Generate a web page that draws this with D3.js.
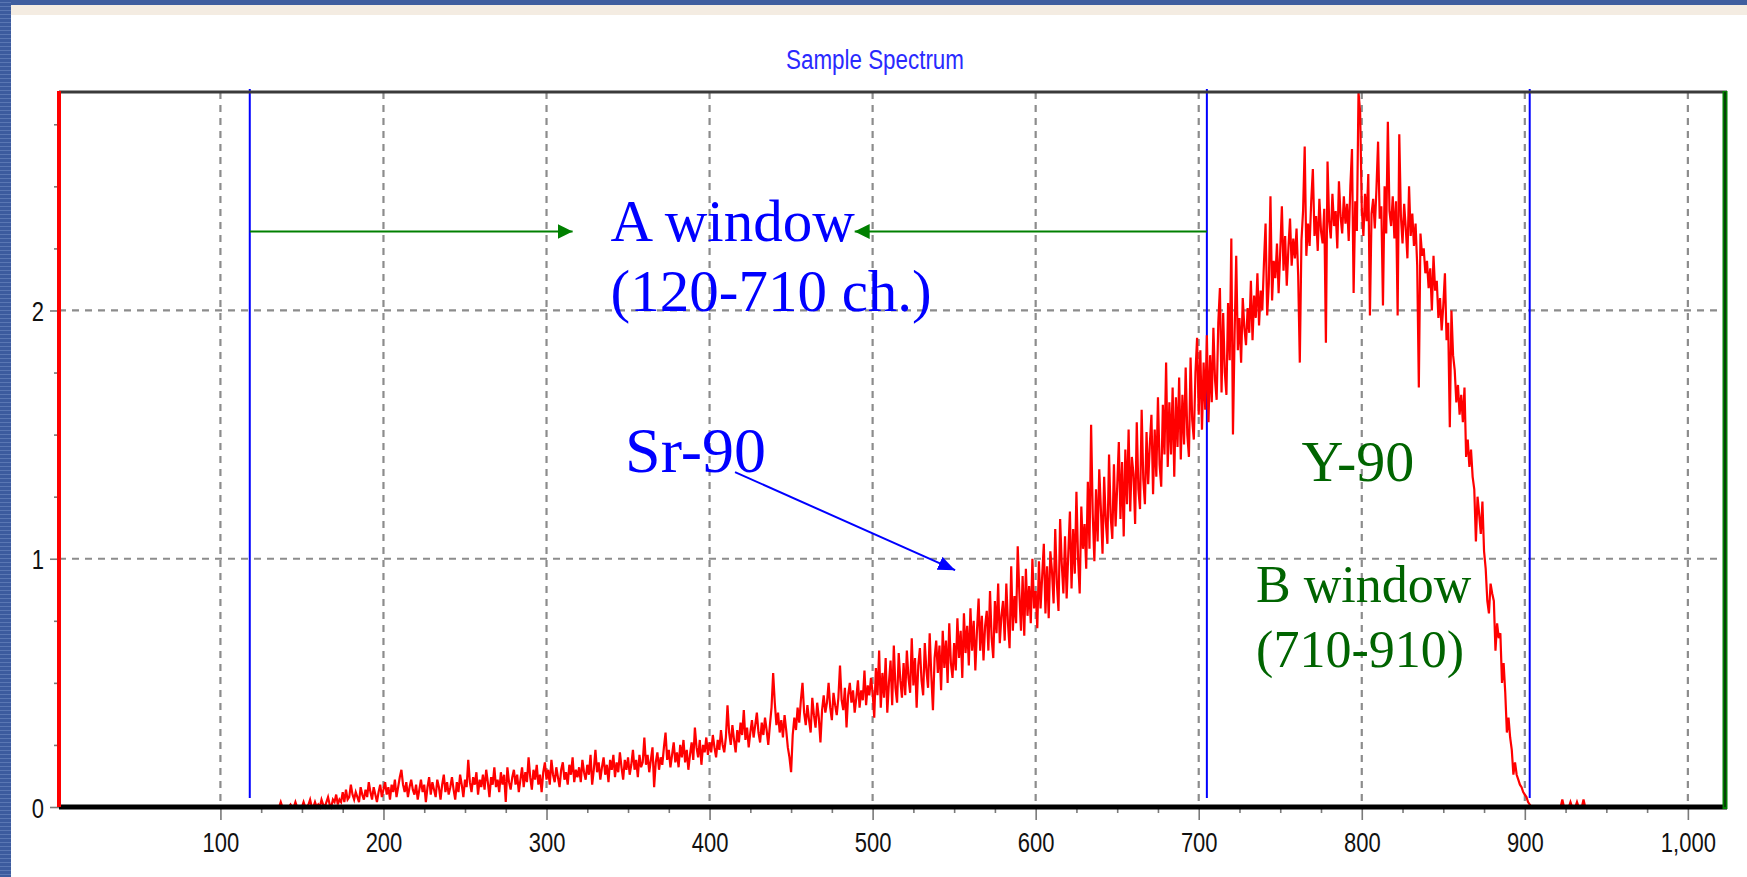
<!DOCTYPE html>
<html>
<head>
<meta charset="utf-8">
<script src="https://cdn.jsdelivr.net/npm/d3@7"></script>
<style>
body{margin:0;background:#fff;}
svg{display:block;}
</style>
</head>
<body>
<svg id="spectrum"></svg>
<script>
// counts per channel, first value is channel 130
var channelStart = 130;
var counts = [
 0,0,0,0,0,0,0,0.02,0,0,
 0,0,0,0.01,0,0,0.02,0,0,0,
 0,0.02,0,0,0.01,0.03,0,0,0.02,0,
 0.01,0,0.03,0.01,0,0.02,0.04,0.01,0,0.03,
 0.02,0.05,0.01,0.03,0.02,0.06,0.02,0.07,0.03,0.04,
 0.09,0.05,0.03,0.06,0.04,0.02,0.08,0.05,0.03,0.07,
 0.04,0.10,0.06,0.03,0.08,0.05,0.02,0.06,0.09,0.04,
 0.07,0.10,0.05,0.08,0.03,0.09,0.06,0.11,0.04,0.08,
 0.12,0.15,0.09,0.06,0.10,0.04,0.08,0.11,0.07,0.05,
 0.09,0.03,0.07,0.11,0.06,0.09,0.02,0.08,0.12,0.05,
 0.10,0.07,0.04,0.11,0.08,0.03,0.09,0.13,0.06,0.10,
 0.05,0.08,0.12,0.07,0.03,0.10,0.06,0.13,0.09,0.04,
 0.11,0.08,0.19,0.10,0.06,0.12,0.09,0.14,0.05,0.11,
 0.08,0.13,0.07,0.15,0.10,0.04,0.12,0.09,0.16,0.08,
 0.11,0.06,0.14,0.09,0.13,0.02,0.16,0.10,0.07,0.12,
 0.15,0.09,0.13,0.06,0.11,0.16,0.08,0.14,0.10,0.20,
 0.12,0.07,0.15,0.11,0.17,0.09,0.13,0.06,0.14,0.18,
 0.11,0.15,0.09,0.19,0.13,0.10,0.16,0.12,0.08,0.15,
 0.18,0.11,0.14,0.09,0.17,0.13,0.20,0.10,0.15,0.12,
 0.16,0.10,0.19,0.14,0.11,0.17,0.13,0.21,0.09,0.15,
 0.23,0.14,0.18,0.11,0.16,0.20,0.13,0.17,0.10,0.19,
 0.15,0.21,0.12,0.18,0.14,0.22,0.16,0.11,0.19,0.15,
 0.20,0.13,0.17,0.23,0.15,0.19,0.12,0.21,0.16,0.18,
 0.28,0.17,0.21,0.14,0.19,0.24,0.08,0.18,0.22,0.15,
 0.20,0.17,0.24,0.30,0.19,0.23,0.16,0.21,0.26,0.18,
 0.22,0.16,0.25,0.20,0.27,0.18,0.23,0.15,0.21,0.26,
 0.19,0.32,0.24,0.20,0.27,0.17,0.25,0.22,0.28,0.21,
 0.26,0.22,0.29,0.24,0.20,0.27,0.23,0.31,0.25,0.22,
 0.28,0.41,0.30,0.25,0.33,0.27,0.22,0.31,0.26,0.34,
 0.29,0.39,0.27,0.32,0.24,0.30,0.35,0.28,0.33,0.38,
 0.30,0.26,0.34,0.29,0.36,0.31,0.25,0.33,0.40,0.54,
 0.42,0.33,0.38,0.30,0.35,0.28,0.37,0.31,0.24,0.20,
 0.14,0.29,0.36,0.31,0.40,0.34,0.43,0.50,0.38,0.33,
 0.41,0.35,0.30,0.44,0.37,0.32,0.42,0.36,0.26,0.39,
 0.45,0.38,0.42,0.50,0.40,0.35,0.46,0.41,0.37,0.44,
 0.57,0.43,0.39,0.48,0.32,0.45,0.50,0.42,0.47,0.38,
 0.44,0.51,0.40,0.47,0.43,0.55,0.41,0.49,0.45,0.52,
 0.46,0.36,0.56,0.45,0.63,0.40,0.54,0.44,0.60,0.38,
 0.50,0.59,0.41,0.65,0.48,0.42,0.62,0.51,0.44,0.58,
 0.45,0.63,0.52,0.46,0.68,0.49,0.60,0.40,0.57,0.64,
 0.51,0.45,0.66,0.55,0.48,0.70,0.53,0.39,0.60,0.67,
 0.54,0.65,0.47,0.71,0.56,0.67,0.50,0.74,0.58,0.52,
 0.66,0.55,0.76,0.60,0.71,0.52,0.78,0.62,0.73,0.57,
 0.80,0.63,0.75,0.55,0.71,0.84,0.63,0.77,0.59,0.73,
 0.79,0.63,0.87,0.68,0.60,0.83,0.70,0.90,0.66,0.77,
 0.83,0.67,0.90,0.74,0.64,0.97,0.71,0.85,0.74,1.05,
 0.86,0.71,0.93,0.69,0.96,0.77,0.89,0.74,1.00,0.80,
 0.87,0.72,0.99,0.80,0.93,1.06,0.78,0.97,0.76,1.03,
 0.95,0.82,1.12,0.90,0.79,1.16,0.98,0.86,1.09,0.84,
 1.02,1.19,0.88,1.12,0.94,1.27,1.00,0.86,1.21,1.04,
 1.14,0.96,1.31,1.04,1.54,1.18,0.99,1.28,1.07,1.36,
 1.20,1.02,1.33,1.15,1.06,1.42,1.17,1.08,1.38,1.13,
 1.29,1.47,1.16,1.39,1.09,1.44,1.22,1.52,1.19,1.41,
 1.34,1.14,1.55,1.28,1.20,1.60,1.32,1.22,1.51,1.30,
 1.46,1.58,1.26,1.52,1.33,1.65,1.38,1.29,1.62,1.42,
 1.79,1.37,1.63,1.42,1.69,1.33,1.65,1.45,1.73,1.40,
 1.66,1.46,1.77,1.50,1.41,1.81,1.56,1.48,1.75,1.89,
 1.58,1.84,1.52,1.79,1.60,1.90,1.55,1.82,1.63,1.93,
 1.72,1.64,1.95,2.09,1.67,1.99,1.75,1.66,2.03,1.80,
 2.29,1.50,1.90,2.22,1.84,1.97,1.79,2.05,1.93,1.86,
 2.01,1.91,2.12,1.88,2.06,1.97,2.15,1.94,2.08,2.00,
 2.19,2.35,1.98,2.11,2.46,2.04,2.20,2.13,2.27,2.07,
 2.24,2.42,2.16,2.30,2.10,2.25,2.37,2.18,2.29,2.21,
 2.33,2.14,1.79,2.28,2.40,2.66,2.22,2.35,2.26,2.44,
 2.57,2.30,2.38,2.24,2.45,2.32,2.27,2.41,1.87,2.60,
 2.36,2.29,2.47,2.34,2.40,2.25,2.52,2.38,2.31,2.46,
 2.35,2.43,2.28,2.50,2.65,2.07,2.44,2.32,2.88,2.80,
 2.41,2.30,2.47,2.36,2.55,1.98,2.39,2.45,2.33,2.49,
 2.68,2.37,2.42,2.02,2.50,2.31,2.76,2.40,2.34,2.46,
 2.29,2.44,1.98,2.71,2.38,2.27,2.43,2.33,2.21,2.50,
 2.30,2.39,2.26,2.35,2.18,1.69,2.31,2.22,2.25,2.15,
 2.20,2.09,2.17,2.00,2.22,2.08,2.12,1.97,2.05,1.92,
 2.02,2.15,1.88,1.95,1.53,2.00,1.82,1.76,1.63,1.70,
 1.58,1.66,1.55,1.69,1.41,1.48,1.37,1.44,1.33,1.28,
 1.07,1.25,1.18,1.10,1.23,1.03,0.96,0.83,0.78,0.90,
 0.86,0.83,0.63,0.74,0.68,0.70,0.50,0.58,0.46,0.30,
 0.36,0.28,0.23,0.13,0.18,0.13,0.11,0.09,0.08,0.06,
 0.05,0.04,0.02,0.01,0,0,0,0,0,0,
 0,0,0,0,0,0,0,0,0,0,
 0,0,0,0.03,0,0,0,0,0.02,0,
 0,0,0.02,0,0,0,0.03,0,0,0,
 0
];

var xTicks = [100,200,300,400,500,600,700,800,900,1000];
var yTicks = [0,1,2];
var yMinor = [0.25,0.5,0.75,1.25,1.5,1.75,2.25,2.5,2.75];
var windowLines = [118, 705, 903];   // channel of the blue window markers
var titleText = "Sample Spectrum";

// arrows, in channel / count units
var windowArrowFrom = [118, 705];
var windowArrowTo = [316, 489];
var windowArrowLevel = 2.318;
var srArrow = [[415.6, 1.349], [550.6, 0.954]];

var noteText = ["A window", "(120-710 ch.)", "Sr-90", "Y-90", "B window", "(710-910)"];
var noteCh = [339.3, 339.3, 348.2, 763.1, 735.2, 735.2];
var noteCount = [2.278, 1.996, 1.349, 1.313, 0.825, 0.563];

var screen = {width:1747, height:877};
var frame = {left:59, right:1727, top:92, bottom:807};

var svg = d3.select("#spectrum")
    .attr("width", screen.width)
    .attr("height", screen.height);

var xScale = d3.scaleLinear()
    .domain([1, 1024])
    .range([frame.left, frame.right]);
var yScale = d3.scaleLinear()
    .domain([0, 2.88])
    .range([frame.bottom, frame.top]);

var drawBackground = function(target)
{
    var defs = target.append("defs");
    var pat = defs.append("pattern")
        .attr("id", "stripes")
        .attr("patternUnits", "userSpaceOnUse")
        .attr("width", 12).attr("height", 4);
    pat.append("rect").attr("width", 12).attr("height", 4).attr("fill", "#3c5b9e");
    pat.append("rect").attr("y", 2).attr("width", 12).attr("height", 1).attr("fill", "#5a77b3");

    target.append("rect").attr("width", screen.width).attr("height", screen.height).attr("fill", "#ffffff");
    target.append("rect").attr("x", 11).attr("y", 5).attr("width", screen.width-11).attr("height", 10).attr("fill", "#f4ece2");
    target.append("rect").attr("width", screen.width).attr("height", 5).attr("fill", "#3f5e9f");
    target.append("rect").attr("width", 11).attr("height", screen.height).attr("fill", "url(#stripes)");

    // arrow heads
    defs.append("marker")
        .attr("id", "headGreen")
        .attr("markerUnits", "userSpaceOnUse")
        .attr("viewBox", "0 0 15 15")
        .attr("markerWidth", 15).attr("markerHeight", 15)
        .attr("refX", 15).attr("refY", 7.5)
        .attr("orient", "auto")
        .append("path").attr("d", "M0,0L15,7.5L0,15z").attr("fill", "#008000");
    defs.append("marker")
        .attr("id", "headBlue")
        .attr("markerUnits", "userSpaceOnUse")
        .attr("viewBox", "0 0 17 14")
        .attr("markerWidth", 17).attr("markerHeight", 14)
        .attr("refX", 17).attr("refY", 7)
        .attr("orient", "auto")
        .append("path").attr("d", "M0,0L17,7L0,14z").attr("fill", "#0000ff");
}

var drawGrid = function(target)
{
    var grid = target.append("g").classed("grid", true)
        .attr("stroke", "#8c8c8c")
        .attr("stroke-width", 2.2)
        .attr("stroke-dasharray", "7,6");
    grid.selectAll(".vgrid")
        .data(xTicks)
        .enter()
        .append("line")
        .attr("x1", function(d){return xScale(d)})
        .attr("x2", function(d){return xScale(d)})
        .attr("y1", frame.top)
        .attr("y2", frame.bottom);
    grid.selectAll(".hgrid")
        .data(yTicks.filter(function(d){return d > 0}))
        .enter()
        .append("line")
        .attr("x1", frame.left)
        .attr("x2", frame.right)
        .attr("y1", function(d){return yScale(d)})
        .attr("y2", function(d){return yScale(d)});
}

var drawAxes = function(target)
{
    var xAxis = d3.axisBottom(xScale)
        .tickValues(xTicks)
        .tickSize(13)
        .tickFormat(d3.format(","));
    var xMinorAxis = d3.axisBottom(xScale)
        .tickValues(d3.range(125, 1000, 25).filter(function(d){return d % 100 != 0}))
        .tickSize(6)
        .tickFormat("");
    var yAxis = d3.axisLeft(yScale)
        .tickValues(yTicks)
        .tickSize(9)
        .tickPadding(6)
        .tickFormat(d3.format("d"));
    var yMinorAxis = d3.axisLeft(yScale)
        .tickValues(yMinor)
        .tickSize(3)
        .tickFormat("");

    var axes = target.append("g").classed("axes", true);
    var gx = axes.append("g")
        .attr("transform", "translate(0," + frame.bottom + ")")
        .call(xAxis);
    axes.append("g")
        .attr("transform", "translate(0," + frame.bottom + ")")
        .call(xMinorAxis);
    var gy = axes.append("g")
        .attr("transform", "translate(" + frame.left + ",0)")
        .call(yAxis);
    axes.append("g")
        .attr("transform", "translate(" + (frame.left - 2) + ",0)")
        .call(yMinorAxis);

    axes.selectAll(".domain").remove();
    axes.selectAll(".tick line").attr("stroke", "#7a7a7a").attr("stroke-width", 1.6);

    gx.selectAll("text")
        .attr("y", null).attr("dy", null)
        .attr("transform", "translate(0,44.5) scale(1,1.28)")
        .attr("fill", "#111")
        .style("font-family", "'Liberation Sans', Arial, sans-serif")
        .style("font-size", "22px");
    gy.selectAll("text")
        .attr("dy", null)
        .attr("transform", "translate(0,10) scale(1,1.28)")
        .attr("fill", "#111")
        .style("font-family", "'Liberation Sans', Arial, sans-serif")
        .style("font-size", "22px");
}

var drawMarkers = function(target)
{
    target.append("g").classed("windows", true)
        .selectAll("line")
        .data(windowLines)
        .enter()
        .append("line")
        .attr("x1", function(d){return xScale(d)})
        .attr("x2", function(d){return xScale(d)})
        .attr("y1", frame.top - 3)
        .attr("y2", frame.bottom - 9)
        .attr("stroke", "#0000ff")
        .attr("stroke-width", 2);
}

var drawSpectrum = function(target)
{
    var points = counts.map(function(v, i){return {ch: channelStart + i, v: v}});
    var lineGenerator = d3.line()
        .x(function(d){return xScale(d.ch)})
        .y(function(d){return yScale(d.v)});
    target.append("path")
        .datum(points)
        .attr("d", lineGenerator)
        .attr("fill", "none")
        .attr("stroke", "#ff0000")
        .attr("stroke-width", 2.2)
        .attr("stroke-linejoin", "miter");
}

var drawFrame = function(target)
{
    var f = target.append("g").classed("frame", true);
    f.append("line")
        .attr("x1", frame.left).attr("x2", frame.right)
        .attr("y1", frame.top).attr("y2", frame.top)
        .attr("stroke", "#3a3a3a").attr("stroke-width", 3);
    f.append("line")
        .attr("x1", frame.left).attr("x2", frame.right)
        .attr("y1", frame.bottom).attr("y2", frame.bottom)
        .attr("stroke", "#000").attr("stroke-width", 5);
    f.append("line")
        .attr("x1", frame.left).attr("x2", frame.left)
        .attr("y1", frame.top - 1).attr("y2", frame.bottom)
        .attr("stroke", "#ff0000").attr("stroke-width", 4);
    f.append("line")
        .attr("x1", frame.right - 2).attr("x2", frame.right - 2)
        .attr("y1", frame.top - 1).attr("y2", frame.bottom + 2)
        .attr("stroke", "#008000").attr("stroke-width", 5);
    f.append("line")
        .attr("x1", frame.right - 2).attr("x2", frame.right - 2)
        .attr("y1", frame.top).attr("y2", frame.bottom)
        .attr("stroke", "#0a2a0a").attr("stroke-width", 1.5);
}

var drawNotes = function(target)
{
    var notes = target.append("g").classed("notes", true);

    notes.append("text")
        .text(titleText)
        .attr("x", 786)
        .attr("transform", "translate(0,69) scale(1,1.25)")
        .attr("fill", "#2a2aff")
        .style("font-family", "'Liberation Sans', Arial, sans-serif")
        .style("font-size", "22.4px");

    notes.selectAll(".warrow")
        .data(windowArrowFrom)
        .enter()
        .append("line")
        .attr("x1", function(d){return xScale(d)})
        .attr("x2", function(d, i){return xScale(windowArrowTo[i])})
        .attr("y1", yScale(windowArrowLevel))
        .attr("y2", yScale(windowArrowLevel))
        .attr("stroke", "#008000")
        .attr("stroke-width", 2)
        .attr("marker-end", "url(#headGreen)");

    notes.append("line")
        .attr("x1", xScale(srArrow[0][0])).attr("y1", yScale(srArrow[0][1]))
        .attr("x2", xScale(srArrow[1][0])).attr("y2", yScale(srArrow[1][1]))
        .attr("stroke", "#0000ff")
        .attr("stroke-width", 2)
        .attr("marker-end", "url(#headBlue)");

    var noteColor = ["#0000ff", "#0000ff", "#0000ff", "#006400", "#006400", "#006400"];
    var noteSize = [59, 59, 64, 58, 52, 52];
    notes.selectAll(".note")
        .data(noteText)
        .enter()
        .append("text")
        .text(function(d){return d})
        .attr("x", function(d, i){return xScale(noteCh[i])})
        .attr("y", function(d, i){return yScale(noteCount[i])})
        .attr("fill", function(d, i){return noteColor[i]})
        .style("font-family", "'Liberation Serif', 'Times New Roman', serif")
        .style("font-size", function(d, i){return noteSize[i] + "px"});
}

drawBackground(svg);
drawGrid(svg);
drawMarkers(svg);
drawSpectrum(svg);
drawAxes(svg);
drawFrame(svg);
drawNotes(svg);
</script>
</body>
</html>
